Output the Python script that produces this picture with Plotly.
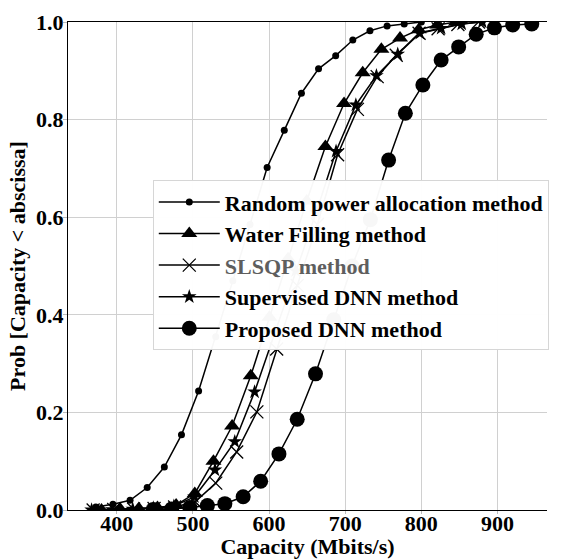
import plotly.graph_objects as go

# ---- data ----
random_x = [372.5, 395, 417.5, 440, 462.5, 485, 507.5, 530, 552.5, 575, 597.5, 620, 642.5, 665, 687.5, 710, 732.5, 755, 777.5, 800]
random_y = [0.006, 0.012, 0.020, 0.046, 0.088, 0.154, 0.244, 0.355, 0.470, 0.585, 0.702, 0.778, 0.854, 0.904, 0.931, 0.963, 0.982, 0.992, 0.996, 1.0]

wf_x = [380, 404.5, 429, 453.5, 478, 502.5, 527, 551.5, 576, 600.5, 625, 649.5, 674, 698.5, 723, 747.5, 772, 796.5, 821, 845.5]
wf_y = [0.0, 0.002, 0.003, 0.005, 0.010, 0.034, 0.100, 0.172, 0.275, 0.395, 0.515, 0.633, 0.745, 0.833, 0.896, 0.944, 0.967, 0.984, 0.994, 1.0]

slsqp_x = [369, 396, 422, 449, 476, 503, 530, 557.5, 584, 610, 637, 663.5, 690, 716, 742, 767, 797, 822, 848, 875]
slsqp_y = [0.0, 0.001, 0.002, 0.003, 0.006, 0.017, 0.055, 0.119, 0.201, 0.330, 0.460, 0.585, 0.728, 0.821, 0.888, 0.932, 0.977, 0.986, 0.995, 1.0]

sup_x = [367, 394, 421, 448, 475, 502, 529, 555, 581, 608, 635, 662, 688, 714, 741, 769, 798, 826, 853, 880]
sup_y = [0.0, 0.001, 0.002, 0.004, 0.008, 0.027, 0.082, 0.140, 0.242, 0.365, 0.490, 0.610, 0.735, 0.830, 0.890, 0.934, 0.977, 0.987, 0.996, 1.0]

prop_x = [448, 472, 496, 519, 542, 566, 589, 613, 637, 661, 685, 709, 733, 757, 779, 802, 826, 849, 872, 896, 920, 945]
prop_y = [0.001, 0.002, 0.005, 0.009, 0.013, 0.027, 0.059, 0.115, 0.186, 0.279, 0.39, 0.50, 0.595, 0.717, 0.813, 0.871, 0.922, 0.949, 0.975, 0.988, 0.994, 0.996]

names = [
    "Random power allocation method",
    "Water Filling method",
    "<span style='color:#5e5e5e'>SLSQP method</span>",
    "Supervised DNN method",
    "Proposed DNN method",
]

x_ticks = [400, 500, 600, 700, 800, 900]
y_ticks = [0.0, 0.2, 0.4, 0.6, 0.8, 1.0]

FONT = "Liberation Serif"

fig = go.Figure()

series = [
    (random_x, random_y, dict(symbol="circle", size=7, color="black")),
    (wf_x, wf_y, dict(symbol="triangle-up", size=14, color="black")),
    (slsqp_x, slsqp_y, dict(symbol="x-thin-open", size=13, color="black", line=dict(width=1.3, color="black"))),
    (sup_x, sup_y, dict(symbol="star", size=11, color="black")),
    (prop_x, prop_y, dict(symbol="circle", size=15, color="black")),
]

for i, (xs, ys, mk) in enumerate(series):
    fig.add_trace(go.Scatter(
        x=xs, y=ys, mode="lines+markers", name=names[i],
        legendgroup=f"g{i}",
        line=dict(color="black", width=1.5),
        marker=mk,
    ))

fig.update_layout(
    width=567, height=559,
    margin=dict(l=68, r=20, t=22, b=49),
    paper_bgcolor="white", plot_bgcolor="white",
    font=dict(family=FONT, size=22, color="black", weight="bold"),
    showlegend=True,
    legend=dict(
        x=0.177, y=0.676, xanchor="left", yanchor="top",
        bgcolor="rgba(255,255,255,0.97)",
        bordercolor="#d6d6d6", borderwidth=1,
        font=dict(family=FONT, size=22, color="black", weight="bold"),
        traceorder="grouped", tracegroupgap=0,
        itemwidth=61,
    ),
)

fig.update_xaxes(
    range=[336, 965], tickvals=x_ticks,
    showgrid=True, gridcolor="#d0d0d0", gridwidth=1.3,
    showline=True, linecolor="black", linewidth=1.3, mirror=True,
    zeroline=False,
    ticks="outside", ticklen=3, tickcolor="#bbbbbb",
    ticklabelstandoff=-10,
    title=dict(text="Capacity (Mbits/s)", standoff=6, font=dict(family=FONT, size=22, weight="bold")),
    automargin=False,
)
fig.update_yaxes(
    range=[0, 1], tickvals=y_ticks, tickformat=".1f",
    showgrid=True, gridcolor="#d0d0d0", gridwidth=1.3,
    showline=True, linecolor="black", linewidth=1.3,
    zeroline=False,
    ticks="outside", ticklen=4, tickcolor="#bbbbbb",
    ticklabelstandoff=-5,
    title=dict(text="Prob [Capacity < abscissa]", standoff=4, font=dict(family=FONT, size=22, weight="bold")),
    automargin=False,
)

fig.write_html("out.html")
